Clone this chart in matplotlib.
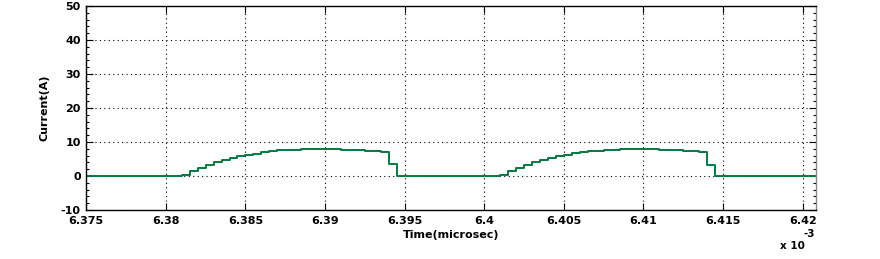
import matplotlib.pyplot as plt
from matplotlib.ticker import MultipleLocator, FixedLocator

# step breakpoints (time in ms) and current level held from that time on
t_pulse1 = [6.375, 6.381, 6.3815, 6.382, 6.3825, 6.383, 6.3835, 6.384, 6.3845,
            6.385, 6.3855, 6.386, 6.3865, 6.387, 6.3885, 6.391, 6.3925, 6.3935,
            6.394, 6.3945]
i_pulse1 = [0.0, 0.3, 1.4, 2.3, 3.3, 4.1, 4.8, 5.3, 5.9,
            6.2, 6.6, 7.0, 7.3, 7.6, 7.9, 7.6, 7.3, 7.0,
            3.6, 0.0]

t_pulse2 = [6.401, 6.4015, 6.402, 6.4025, 6.403, 6.4035, 6.404, 6.4045,
            6.405, 6.4055, 6.406, 6.4065, 6.4075, 6.4085, 6.411, 6.4125, 6.4135,
            6.414, 6.4145, 6.4208]
i_pulse2 = [0.3, 1.4, 2.3, 3.3, 4.2, 4.8, 5.2, 5.9,
            6.2, 6.7, 7.1, 7.4, 7.6, 7.9, 7.6, 7.3, 7.0,
            3.3, 0.0, 0.0]

x_ticks = [6.375, 6.38, 6.385, 6.39, 6.395, 6.4, 6.405, 6.41, 6.415, 6.42]
x_labels = ['6.375', '6.38', '6.385', '6.39', '6.395', '6.4', '6.405', '6.41', '6.415', '6.42']
y_ticks = [-10, 0, 10, 20, 30, 40, 50]

t = t_pulse1 + t_pulse2
cur = i_pulse1 + i_pulse2

plt.rcParams['font.family'] = ['DejaVu Sans']
plt.rcParams['font.weight'] = 'bold'
plt.rcParams['axes.unicode_minus'] = False

fig = plt.figure(figsize=(8.8, 2.59), dpi=100)
ax = fig.add_axes([0.098, 0.189, 0.829, 0.788])

ax.plot(t, cur, drawstyle='steps-post', color='#007a3d', lw=1.4)

ax.set_xlim(6.375, 6.42082)
ax.set_ylim(-10, 50)
ax.xaxis.set_major_locator(FixedLocator(x_ticks))
ax.set_xticklabels(x_labels)
ax.set_yticks(y_ticks)
ax.yaxis.set_minor_locator(MultipleLocator(2))

ax.tick_params(which='both', direction='in', top=True, right=True,
               labelsize=8, length=5, width=0.8)
ax.tick_params(which='minor', length=2.5)
ax.tick_params(axis='x', pad=4.5)
ax.tick_params(axis='y', pad=4)
ax.grid(True, which='major', color='black', linestyle=(0, (1, 3)), lw=0.8)

for s in ax.spines.values():
    s.set_linewidth(1.0)
ax.spines['right'].set_color('#888888')

ax.set_xlabel('Time(microsec)', fontsize=8, fontweight='bold', labelpad=3)
ax.set_ylabel('Current(A)', fontsize=8, fontweight='bold', labelpad=8)

fig.text(0.886, 0.04, 'x 10', fontsize=7.5, fontweight='bold')
fig.text(0.913, 0.085, '-3', fontsize=7.5, fontweight='bold')

fig.savefig('out.png', dpi=100)
